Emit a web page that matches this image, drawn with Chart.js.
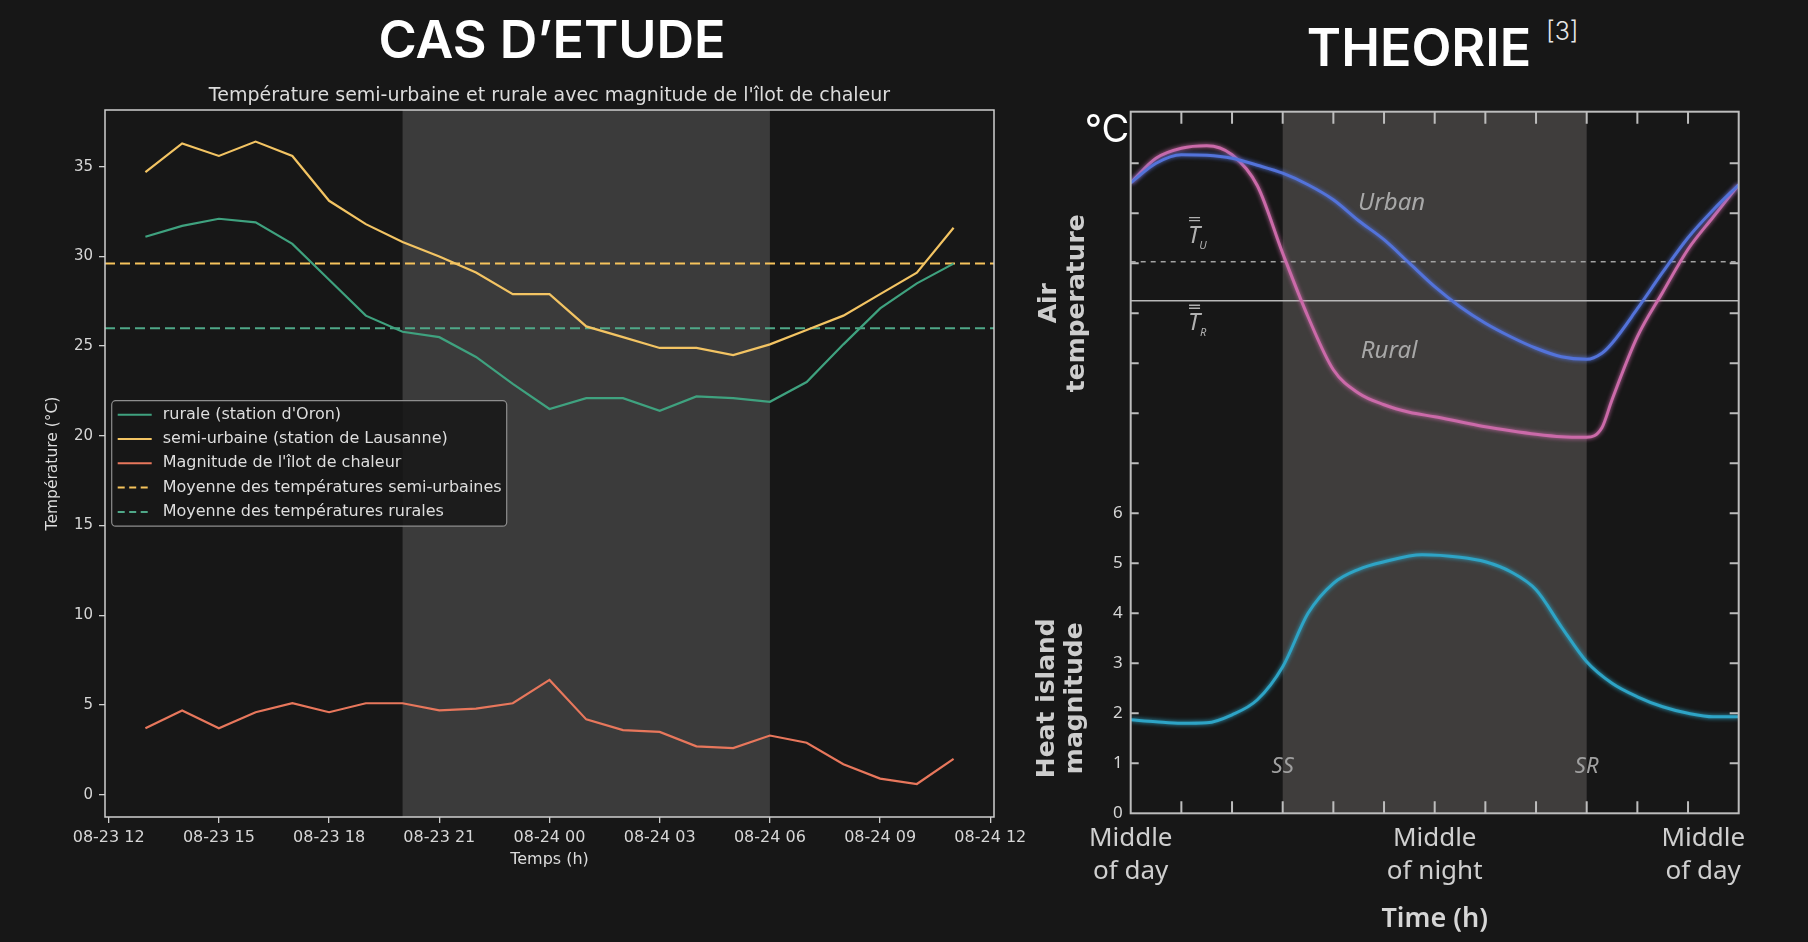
<!DOCTYPE html>
<html>
<head>
<meta charset="utf-8">
<script src="https://cdn.jsdelivr.net/npm/chart.js@4.4.0/dist/chart.umd.min.js"></script>
<style>
  html, body { margin: 0; padding: 0; width: 1808px; height: 942px; overflow: hidden; background: #171717; }
  canvas { position: absolute; }
  #left { left: 0; top: 0; }
  #right { left: 1000px; top: 60px; }
  .heading { position: absolute; color: #fff; font-family: Inter, 'Noto Sans', sans-serif; font-weight: 600;
             font-size: 52px; line-height: 1; white-space: nowrap; transform: translate(-50%, -50%); }
  .ref { position: absolute; left: 1546px; top: 16px; color: #e6e6e6; font-family: Inter, sans-serif; font-weight: 300; font-size: 25px; }
  .unit { position: absolute; left: 1107px; top: 128px; color: #fff; font-family: Inter, sans-serif; font-size: 38px;
          line-height: 1; transform: translate(-50%, -50%); }
</style>
</head>
<body>
<div class="heading" style="left:552px; top:40px;">CAS D’ETUDE</div>
<div class="heading" style="left:1419px; top:48px;">THEORIE</div>
<div class="ref">[3]</div>
<canvas id="left" width="1100" height="900"></canvas>
<canvas id="right" width="808" height="882"></canvas>
<div class="unit">°C</div>
<script>
// ---- cas d'etude (hours after 08-23 12:00) ----
const hours = [1,2,3,4,5,6,7,8,9,10,11,12,13,14,15,16,17,18,19,20,21,22,23];
const rurale = [31.1,31.7,32.1,31.9,30.7,28.7,26.7,25.8,25.5,24.4,22.9,21.5,22.1,22.1,21.4,22.2,22.1,21.9,23.0,25.1,27.1,28.5,29.6];
const semiUrbaine = [34.7,36.3,35.6,36.4,35.6,33.1,31.8,30.8,30.0,29.1,27.9,27.9,26.1,25.5,24.9,24.9,24.5,25.1,25.9,26.7,27.9,29.1,31.6];
const magnitude = [3.7,4.7,3.7,4.6,5.1,4.6,5.1,5.1,4.7,4.8,5.1,6.4,4.2,3.6,3.5,2.7,2.6,3.3,2.9,1.7,0.9,0.6,2.0];
const meanSemi = 29.6;
const meanRural = 26.0;
const nightStart = 8, nightEnd = 18;   // 20h -> 06h
const tickHours = [0,3,6,9,12,15,18,21,24];
const hourLabels = ['08-23 12','08-23 15','08-23 18','08-23 21','08-24 00','08-24 03','08-24 06','08-24 09','08-24 12'];
const tempTicks = [0,5,10,15,20,25,30,35];

// ---- theorie (hours after middle of day) ----
const theoryHours = [0,1,2,3,4,5,6,7,8,9,10,11,12,13,14,15,16,17,18,18.6,19,20,21,22,23,24];
const urbanTemp = [12.61,13.0,13.17,13.16,13.1,12.96,12.8,12.57,12.27,11.85,11.47,11.0,10.53,10.13,9.8,9.53,9.3,9.13,9.08,9.2,9.4,10.09,10.82,11.51,12.07,12.57];
const ruralTemp = [12.61,13.1,13.3,13.35,13.17,12.55,11.2,9.93,8.87,8.4,8.17,8.02,7.93,7.83,7.73,7.65,7.58,7.53,7.52,7.71,8.27,9.53,10.42,11.28,11.93,12.57];
const islandHours = [0,1,2,3,4,5,6,7,8,9,10,11.5,13,14,15,16,17,18,19,20,21,22,23,24];
const islandMagnitude = [1.87,1.83,1.80,1.81,1.97,2.27,2.93,4.0,4.6,4.88,5.03,5.17,5.12,5.03,4.83,4.47,3.73,3.03,2.6,2.33,2.13,2.0,1.93,1.93];
const meanUrbanTheory = 11.03;
const meanRuralTheory = 10.25;
const sunset = 6, sunrise = 18;
const magnitudeTicks = [0,1,2,3,4,5,6];
const theoryTickHours = [0, 12, 22.6];
const theoryTickLabels = [['Middle', 'of day'], ['Middle', 'of night'], ['Middle', 'of day']];

Chart.defaults.animation = false;

const pts = (xs, ys) => xs.map((x, i) => ({x: x, y: ys[i]}));

const nightShade = {
  id: 'nightShade',
  beforeDatasetsDraw(chart, args, o) {
    const {ctx, chartArea: a, scales: {x}} = chart;
    const x0 = x.getPixelForValue(o.from), x1 = x.getPixelForValue(o.to);
    ctx.save();
    ctx.fillStyle = o.color;
    ctx.fillRect(x0, a.top, x1 - x0, a.bottom - a.top);
    ctx.restore();
  }
};

const frame = {
  id: 'frame',
  afterDatasetsDraw(chart, args, o) {
    const {ctx, chartArea: a} = chart;
    ctx.save();
    ctx.strokeStyle = o.color;
    ctx.lineWidth = o.width;
    ctx.strokeRect(a.left, a.top, a.right - a.left, a.bottom - a.top);
    ctx.restore();
  }
};

// title centred over the axes, like matplotlib
const plotTitle = {
  id: 'plotTitle',
  afterDraw(chart, args, o) {
    const {ctx, chartArea: a} = chart;
    ctx.save();
    ctx.fillStyle = '#dcdcdc';
    ctx.font = "19px 'DejaVu Sans'";
    ctx.textAlign = 'center';
    ctx.textBaseline = 'middle';
    ctx.fillText(o.text, (a.left + a.right) / 2, a.top - 14);
    ctx.restore();
  }
};

const boxLegend = {
  id: 'boxLegend',
  afterDatasetsDraw(chart, args, o) {
    const {ctx, chartArea: a} = chart;
    const items = chart.data.datasets;
    const x = a.left + 6.7, y = a.top + 290.7;
    const h = items.length * 24.3 + 4;
    ctx.save();
    ctx.fillStyle = 'rgba(24,24,24,0.85)';
    ctx.strokeStyle = '#8e8e8e';
    ctx.lineWidth = 1.2;
    ctx.beginPath();
    ctx.roundRect(x, y, 395, h, 4);
    ctx.fill();
    ctx.stroke();
    ctx.font = "16px 'DejaVu Sans'";
    ctx.textBaseline = 'middle';
    items.forEach((d, i) => {
      const cy = y + 14 + 24.3 * i;
      ctx.strokeStyle = d.borderColor;
      ctx.lineWidth = 2;
      ctx.setLineDash(d.borderDash ? [7, 4.5] : []);
      ctx.beginPath();
      ctx.moveTo(x + 6, cy);
      ctx.lineTo(x + 40, cy);
      ctx.stroke();
      ctx.setLineDash([]);
      ctx.fillStyle = '#dedede';
      ctx.fillText(d.label, x + 51, cy);
    });
    ctx.restore();
  }
};

new Chart(document.getElementById('left'), {
  type: 'line',
  data: {
    datasets: [
      {label: "rurale (station d'Oron)", data: pts(hours, rurale), borderColor: '#3fa27f', borderWidth: 2.2, pointRadius: 0},
      {label: 'semi-urbaine (station de Lausanne)', data: pts(hours, semiUrbaine), borderColor: '#f3c463', borderWidth: 2.2, pointRadius: 0},
      {label: "Magnitude de l'îlot de chaleur", data: pts(hours, magnitude), borderColor: '#e8775c', borderWidth: 2.2, pointRadius: 0},
      {label: 'Moyenne des températures semi-urbaines', data: [{x: -0.1, y: meanSemi}, {x: 24.1, y: meanSemi}],
       borderColor: '#f6c35c', borderWidth: 2, borderDash: [10, 5], pointRadius: 0},
      {label: 'Moyenne des températures rurales', data: [{x: -0.1, y: meanRural}, {x: 24.1, y: meanRural}],
       borderColor: '#4fa888', borderWidth: 2, borderDash: [10, 5], pointRadius: 0}
    ]
  },
  options: {
    responsive: false,
    devicePixelRatio: 1,
    layout: {padding: {left: 0, right: 106, top: 110, bottom: 0}},
    plugins: {
      legend: {display: false},
      tooltip: {enabled: false},
      title: {display: false},
      plotTitle: {text: "Température semi-urbaine et rurale avec magnitude de l'îlot de chaleur"},
      nightShade: {from: nightStart, to: nightEnd, color: '#3b3b3b'},
      frame: {color: '#cfcfcf', width: 1.5}
    },
    scales: {
      x: {
        type: 'linear', min: -0.1, max: 24.1,
        afterBuildTicks: s => { s.ticks = tickHours.map(v => ({value: v})); },
        afterFit: s => { s.height = 83; },
        ticks: {callback: (v, i) => hourLabels[i], maxRotation: 0, autoSkip: false, padding: 5,
                color: '#d6d6d6', font: {family: "'DejaVu Sans', sans-serif", size: 16}},
        grid: {drawOnChartArea: false, drawTicks: true, tickLength: 6, color: '#cfcfcf', lineWidth: 1.3},
        border: {display: false},
        title: {display: true, text: 'Temps (h)', color: '#dcdcdc',
                font: {family: "'DejaVu Sans', sans-serif", size: 16}, padding: {top: 0, bottom: 31}}
      },
      y: {
        type: 'linear', min: -1.24, max: 38.16,
        afterBuildTicks: s => { s.ticks = tempTicks.map(v => ({value: v})); },
        afterFit: s => { s.width = 105; },
        ticks: {padding: 6, color: '#d6d6d6', font: {family: "'DejaVu Sans', sans-serif", size: 15}},
        grid: {drawOnChartArea: false, drawTicks: true, tickLength: 6, color: '#cfcfcf', lineWidth: 1.3},
        border: {display: false},
        title: {display: true, text: 'Température (°C)', color: '#dcdcdc',
                font: {family: "'DejaVu Sans', sans-serif", size: 15.5}, padding: {top: 44, bottom: 0}}
      }
    }
  },
  plugins: [nightShade, frame, boxLegend, plotTitle]
});

// ---- right figure ----
const glow = {
  id: 'glow',
  beforeDatasetDraw(chart, args) {
    const d = chart.data.datasets[args.index];
    chart.ctx.save();
    if (d.borderWidth > 2) {
      chart.ctx.shadowColor = d.borderColor;
      chart.ctx.shadowBlur = 4;
    }
  },
  afterDatasetDraw(chart) { chart.ctx.restore(); }
};

const innerTicks = {
  id: 'innerTicks',
  afterDatasetsDraw(chart) {
    const {ctx, chartArea: a, scales: {x, y}} = chart;
    ctx.save();
    ctx.strokeStyle = '#bdbdbd';
    ctx.lineWidth = 2;
    ctx.strokeRect(a.left, a.top, a.right - a.left, a.bottom - a.top);
    ctx.beginPath();
    for (let v = 1; v <= 13; v++) {
      const py = y.getPixelForValue(v);
      ctx.moveTo(a.left, py); ctx.lineTo(a.left + 8, py);
      ctx.moveTo(a.right - 9, py); ctx.lineTo(a.right, py);
    }
    for (let h = 2; h <= 22; h += 2) {
      const px = x.getPixelForValue(h);
      ctx.moveTo(px, a.top); ctx.lineTo(px, a.top + 12);
      ctx.moveTo(px, a.bottom); ctx.lineTo(px, a.bottom - 12);
    }
    ctx.stroke();
    ctx.restore();
  }
};

const notes = {
  id: 'notes',
  afterDatasetsDraw(chart) {
    const {ctx, scales: {x, y}} = chart;
    ctx.save();
    ctx.textAlign = 'center';
    ctx.textBaseline = 'middle';
    ctx.fillStyle = '#a8a8a8';
    ctx.font = "italic 24px 'Noto Sans'";
    ctx.fillText('Urban', x.getPixelForValue(10.3), y.getPixelForValue(12.2));
    ctx.fillText('Rural', x.getPixelForValue(10.2), y.getPixelForValue(9.25));
    ctx.font = "italic 22px 'Noto Sans'";
    ctx.fillStyle = '#a0a0a0';
    ctx.fillText('SS', x.getPixelForValue(sunset), y.getPixelForValue(0.93));
    ctx.fillText('SR', x.getPixelForValue(sunrise), y.getPixelForValue(0.93));
    // T-bar labels
    [['U', 11.55], ['R', 9.8]].forEach(([sub, v]) => {
      const px = x.getPixelForValue(2.5), py = y.getPixelForValue(v);
      ctx.fillStyle = '#b0b0b0';
      ctx.strokeStyle = '#b0b0b0';
      ctx.font = "italic 24px 'Noto Sans'";
      ctx.fillText('T', px, py);
      ctx.lineWidth = 1.3;
      ctx.beginPath();
      ctx.moveTo(px - 5, py - 15); ctx.lineTo(px + 6, py - 15);
      ctx.moveTo(px - 5, py - 18); ctx.lineTo(px + 6, py - 18);
      ctx.stroke();
      ctx.font = "italic 11px 'Noto Sans'";
      ctx.fillText(sub, px + 9, py + 10);
    });
    // axis titles
    ctx.fillStyle = '#cdcdcd';
    ctx.font = "bold 25px 'DejaVu Sans'";
    const vert = (txt, px, v) => {
      ctx.save();
      ctx.translate(px, y.getPixelForValue(v));
      ctx.rotate(-Math.PI / 2);
      ctx.fillText(txt, 0, 0);
      ctx.restore();
    };
    vert('Air', 49, 10.2);
    vert('temperature', 77, 10.2);
    vert('Heat island', 47, 2.3);
    vert('magnitude', 75, 2.3);
    ctx.restore();
  }
};

new Chart(document.getElementById('right'), {
  type: 'line',
  data: {
    datasets: [
      {label: 'Urban', data: pts(theoryHours, urbanTemp), borderColor: '#5373da', borderWidth: 3,
       pointRadius: 0, cubicInterpolationMode: 'monotone'},
      {label: 'Rural', data: pts(theoryHours, ruralTemp), borderColor: '#cb6aa9', borderWidth: 3,
       pointRadius: 0, cubicInterpolationMode: 'monotone'},
      {label: 'Heat island magnitude', data: pts(islandHours, islandMagnitude), borderColor: '#2ea4c6', borderWidth: 3,
       pointRadius: 0, cubicInterpolationMode: 'monotone'},
      {label: 'T_U', data: [{x: 0, y: meanUrbanTheory}, {x: 24, y: meanUrbanTheory}], borderColor: '#a3a3a3',
       borderWidth: 1.5, borderDash: [5, 5], pointRadius: 0},
      {label: 'T_R', data: [{x: 0, y: meanRuralTheory}, {x: 24, y: meanRuralTheory}], borderColor: '#b8b8b8',
       borderWidth: 1.5, pointRadius: 0}
    ]
  },
  options: {
    responsive: false,
    devicePixelRatio: 1,
    layout: {padding: {left: 0, right: 69.3, top: 51.7, bottom: 0}},
    plugins: {
      legend: {display: false},
      tooltip: {enabled: false},
      nightShade: {from: sunset, to: sunrise, color: '#3f3d3c'}
    },
    scales: {
      x: {
        type: 'linear', min: 0, max: 24,
        afterBuildTicks: s => { s.ticks = theoryTickHours.map(v => ({value: v})); },
        afterFit: s => { s.height = 128.7; },
        ticks: {callback: (v, i) => theoryTickLabels[i], maxRotation: 0, autoSkip: false, padding: 8,
                color: '#cfcfcf', font: {family: "'Noto Sans'", size: 26, lineHeight: 1.3}},
        grid: {display: false, drawTicks: false},
        border: {display: false},
        title: {display: true, text: 'Time (h)', color: '#d6d6d6',
                font: {family: "'Noto Sans'", size: 27, weight: '600'}, padding: {top: 0, bottom: 6}}
      },
      y: {
        type: 'linear', min: 0, max: 14.03,
        afterBuildTicks: s => { s.ticks = magnitudeTicks.map(v => ({value: v})); },
        afterFit: s => { s.width = 130.7; },
        ticks: {padding: 8, color: '#d5d5d5', font: {family: "'Noto Sans'", size: 17}},
        grid: {display: false, drawTicks: false},
        border: {display: false}
      }
    }
  },
  plugins: [nightShade, glow, innerTicks, notes]
});
</script>
</body>
</html>
